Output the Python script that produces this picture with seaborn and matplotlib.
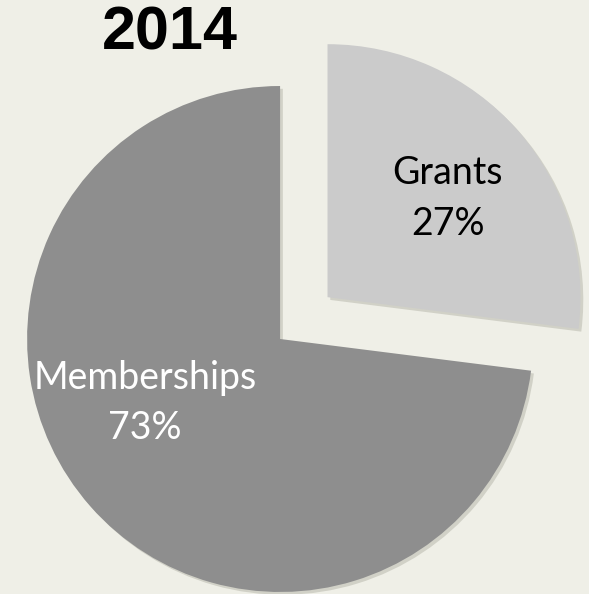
import numpy as np
import matplotlib
matplotlib.use("Agg")
import matplotlib.pyplot as plt
import matplotlib.patheffects as pe
import seaborn as sns

# data
categories = ["Grants", "Memberships"]
shares = [27, 73]
title = "2014"

slice_colors = ["#cbcbcb", "#8e8e8e"]
label_colors = ["black", "white"]
explode = [0.25, 0.0]
bg = "#efefe7"

sns.set_theme(style="white", rc={"figure.facecolor": bg, "axes.facecolor": bg})

fig = plt.figure(figsize=(5.89, 5.94), dpi=100)
ax = fig.add_axes([0, 0, 1, 1])
ax.set_facecolor(bg)

wedges, _ = ax.pie(shares, colors=slice_colors, explode=explode, startangle=90,
                   counterclock=False, radius=1.0,
                   wedgeprops=dict(linewidth=0))
for w in wedges:
    w.set_path_effects([pe.SimplePatchShadow(offset=(2, -2), shadow_rgbFace="#5a5a48", alpha=0.2),
                        pe.Normal()])

# label placement (radius fraction, angle tweak in degrees)
label_pos = [(0.615, -2.0), (0.59, -16.0)]
for w, cat, val, col, (rf, dtheta) in zip(wedges, categories, shares, label_colors, label_pos):
    mid = np.deg2rad((w.theta1 + w.theta2) / 2 + dtheta)
    cx, cy = w.center
    x = cx + rf * w.r * np.cos(mid)
    y = cy + rf * w.r * np.sin(mid)
    ax.text(x, y, f"{cat}\n{val}%", ha="center", va="center", color=col,
            fontsize=27, family=["Lato", "DejaVu Sans"], linespacing=1.5)

ax.set_xlim(-1.107, 1.221)
ax.set_ylim(-1.008, 1.340)
ax.set_aspect("equal")
ax.axis("off")

fig.text(170 / 589, 1 - 34 / 594, title, ha="center", va="center", fontsize=44,
         fontweight="bold", color="black",
         family=["Liberation Sans Narrow", "Liberation Sans", "DejaVu Sans"])

fig.savefig("out.png", dpi=100, facecolor=bg)
